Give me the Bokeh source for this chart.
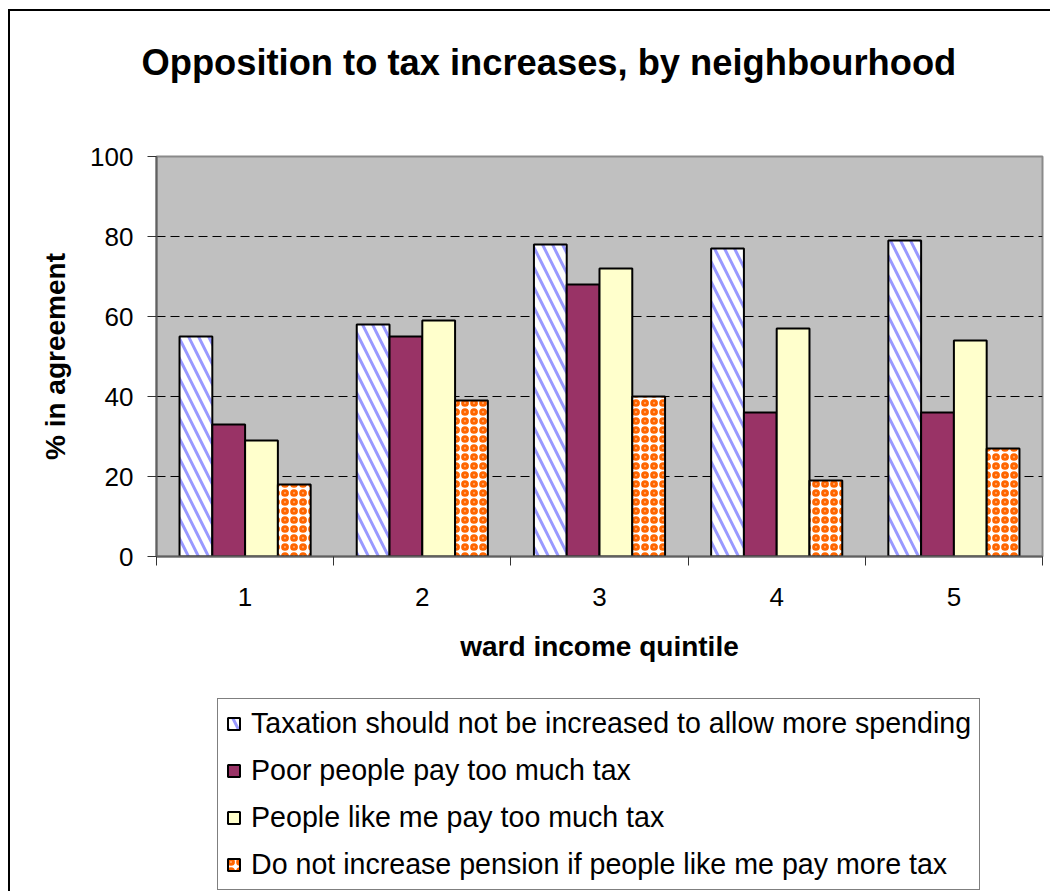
from bokeh.plotting import figure
from bokeh.models import (Range1d, FixedTicker, ColumnDataSource, Legend, LegendItem, Title)
from bokeh.layouts import column
from bokeh.transform import dodge
from bokeh.embed import file_html
from bokeh.resources import INLINE

# ---- data ----
categories = ["1", "2", "3", "4", "5"]
series_names = [
    "Taxation should not be increased to allow more spending",
    "Poor people pay too much tax",
    "People like me pay too much tax",
    "Do not increase pension if people like me pay more tax",
]
taxation = [55, 58, 78, 77, 79]
poor = [33, 55, 68, 36, 36]
like_me = [29, 59, 72, 57, 54]
pension = [18, 39, 40, 19, 27]
y_ticks = [0, 20, 40, 60, 80, 100]

title = "Opposition to tax increases, by neighbourhood"
x_title = "ward income quintile"
y_title = "% in agreement"

# ---- source ----
centers = [i + 0.5 for i in range(len(categories))]
src = ColumnDataSource(dict(x=centers, taxation=taxation, poor=poor,
                            like_me=like_me, pension=pension))

FONT = "Liberation Sans"

p = figure(width=1040, height=679, output_backend="svg", toolbar_location=None,
           x_range=Range1d(0, len(categories)), y_range=Range1d(0, 100),
           min_border_left=146, min_border_right=8, min_border_top=145,
           min_border_bottom=134)

p.background_fill_color = "#C0C0C0"
p.border_fill_color = "white"
p.outline_line_color = "#8a8a8a"
p.outline_line_width = 2

# spacer (closest to frame) then the real title
p.add_layout(Title(text=" ", text_font_size="10px", standoff=61), "above")
p.add_layout(Title(text=title, align="left", offset=-15, standoff=0,
                   text_font=FONT, text_font_size="36.3px", text_font_style="bold",
                   text_color="black"), "above")

bw = 0.185
styles = [
    dict(fill_color="white", hatch_pattern="\\", hatch_color="#9999FF", hatch_scale=20, hatch_weight=3),
    dict(fill_color="#993366"),
    dict(fill_color="#FFFFCC"),
    dict(fill_color="white", hatch_pattern="o", hatch_color="#FF6600", hatch_scale=9, hatch_weight=3.2),
]
cols = ["taxation", "poor", "like_me", "pension"]
offsets = [-1.5 * bw, -0.5 * bw, 0.5 * bw, 1.5 * bw]
for col, off, st in zip(cols, offsets, styles):
    p.vbar(x=dodge("x", off), top=col, width=bw, source=src,
           line_color="black", line_width=2, **st)

# axes
xa = p.xaxis[0]
xa.ticker = FixedTicker(ticks=centers, minor_ticks=list(range(len(categories) + 1)))
xa.major_label_overrides = {c: lab for c, lab in zip(centers, categories)}
xa.major_tick_out = 0
xa.major_tick_in = 0
xa.minor_tick_out = 9
xa.minor_tick_in = 0
xa.minor_tick_line_color = "#333333"
xa.axis_line_color = "#606060"
xa.axis_line_width = 2
xa.major_label_text_font = FONT
xa.major_label_text_font_size = "26px"
xa.major_label_text_color = "black"
xa.major_label_standoff = 22
xa.axis_label = x_title
xa.axis_label_text_font = FONT
xa.axis_label_text_font_size = "28px"
xa.axis_label_text_font_style = "bold"
xa.axis_label_text_color = "black"
xa.axis_label_standoff = 22

ya = p.yaxis[0]
ya.ticker = FixedTicker(ticks=y_ticks)
ya.major_tick_out = 9
ya.major_tick_in = 0
ya.minor_tick_out = 0
ya.minor_tick_in = 0
ya.major_tick_line_color = "#333333"
ya.axis_line_color = "#606060"
ya.axis_line_width = 2
ya.major_label_text_font = FONT
ya.major_label_text_font_size = "26px"
ya.major_label_text_color = "black"
ya.major_label_standoff = 14
ya.axis_label = y_title
ya.axis_label_text_font = FONT
ya.axis_label_text_font_size = "28px"
ya.axis_label_text_font_style = "bold"
ya.axis_label_text_color = "black"
ya.axis_label_standoff = 16

p.xgrid.grid_line_color = None
p.ygrid.grid_line_color = "black"
p.ygrid.grid_line_dash = "9 5"
p.ygrid.grid_line_width = 1

# ---- legend panel: a second figure with the same (hidden) bars ----
p2 = figure(width=1040, height=201, output_backend="svg", toolbar_location=None,
            x_range=Range1d(0, len(categories)), y_range=Range1d(-2, -1),
            x_axis_type=None, y_axis_type=None,
            min_border_left=146, min_border_right=8, min_border_top=0, min_border_bottom=0)
p2.grid.visible = False
p2.outline_line_color = None
p2.background_fill_color = "white"
p2.border_fill_color = "white"
leg_renderers = [p2.vbar(x=dodge("x", off), top=col, width=bw, source=src,
                         line_color="black", line_width=2, visible=False, **st)
                 for col, off, st in zip(cols, offsets, styles)]

legend = Legend(items=[LegendItem(label=n, renderers=[r]) for n, r in zip(series_names, leg_renderers)],
                location=(61, 1))
legend.label_text_font = FONT
legend.label_text_font_size = "28.6px"
legend.label_text_color = "black"
legend.glyph_width = 15
legend.glyph_height = 15
legend.label_standoff = 10
legend.spacing = 14
legend.padding = 8
legend.margin = 0
legend.border_line_color = "black"
legend.border_line_width = 1
legend.background_fill_color = "white"
legend.background_fill_alpha = 1
p2.add_layout(legend, "center")

layout = column(p, p2, styles={"margin-left": "8px", "margin-top": "9px",
                               "border-left": "2px solid black",
                               "border-top": "2px solid black"})

open("out.html", "w").write(file_html(layout, INLINE))
